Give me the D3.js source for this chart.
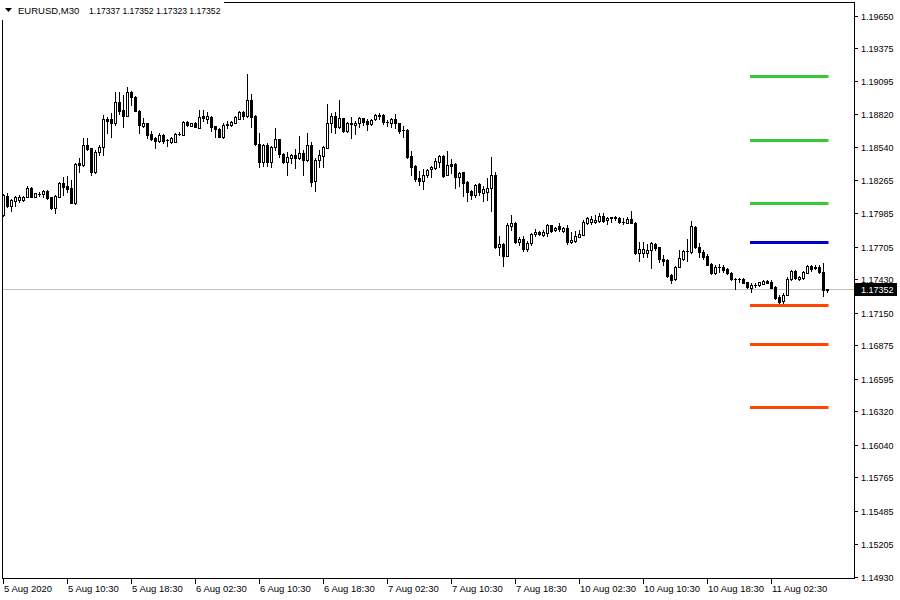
<!DOCTYPE html>
<html><head><meta charset="utf-8">
<script src="https://cdn.jsdelivr.net/npm/d3@7"></script>
<style>body{margin:0;background:#fff;} text{font-family:"Liberation Sans",Arial,sans-serif;font-size:9px;fill:#000;}</style>
</head><body><svg id="c" width="900" height="600"></svg>
<script>
const headerLabel = "EURUSD,M30";
const headerPrices = ["1.17337","1.17352","1.17323","1.17352"];
const openP = [
1.17972,1.18132,1.18050,1.18092,1.18098,1.18098,1.18126,1.18199,1.18126,1.18150,
1.18146,1.18174,1.18120,1.18028,1.18126,1.18238,1.18216,1.18196,1.18070,1.18406,
1.18392,1.18558,1.18533,1.18336,1.18499,1.18547,1.18777,1.18777,1.18749,1.18920,
1.18855,1.18808,1.19004,1.18967,1.18850,1.18723,1.18743,1.18653,1.18622,1.18597,
1.18642,1.18600,1.18589,1.18589,1.18650,1.18645,1.18754,1.18723,1.18749,1.18707,
1.18805,1.18782,1.18799,1.18721,1.18698,1.18625,1.18729,1.18726,1.18749,1.18780,
1.18836,1.18808,1.18939,1.18805,1.18569,1.18420,1.18561,1.18420,1.18541,1.18608,
1.18482,1.18420,1.18454,1.18477,1.18449,1.18491,1.18434,1.18558,1.18261,1.18434,
1.18471,1.18538,1.18743,1.18805,1.18715,1.18785,1.18679,1.18745,1.18726,1.18743,
1.18785,1.18763,1.18735,1.18780,1.18810,1.18813,1.18754,1.18743,1.18777,1.18743,
1.18684,1.18687,1.18468,1.18384,1.18285,1.18260,1.18305,1.18356,1.18370,1.18420,
1.18468,1.18308,1.18400,1.18400,1.18294,1.18330,1.18249,1.18176,1.18140,1.18232,
1.18159,1.18168,1.18196,1.18308,1.17699,1.17727,1.17629,1.17879,1.17907,1.17747,
1.17769,1.17688,1.17733,1.17809,1.17831,1.17803,1.17823,1.17884,1.17842,1.17879,
1.17837,1.17865,1.17741,1.17755,1.17789,1.17803,1.17901,1.17910,1.17912,1.17924,
1.17963,1.17929,1.17952,1.17950,1.17946,1.17913,1.17907,1.17938,1.17907,1.17655,
1.17655,1.17655,1.17677,1.17728,1.17700,1.17599,1.17593,1.17467,1.17430,1.17537,
1.17601,1.17672,1.17663,1.17868,1.17705,1.17663,1.17630,1.17557,1.17481,1.17534,
1.17537,1.17520,1.17487,1.17433,1.17431,1.17433,1.17405,1.17355,1.17383,1.17383,
1.17391,1.17416,1.17411,1.17369,1.17285,1.17248,1.17299,1.17430,1.17501,1.17430,
1.17439,1.17487,1.17543,1.17537,1.17537,1.17495,1.17337];
const highP = [
1.18146,1.18154,1.18103,1.18132,1.18140,1.18134,1.18216,1.18205,1.18160,1.18168,
1.18182,1.18180,1.18126,1.18137,1.18252,1.18289,1.18300,1.18266,1.18406,1.18449,
1.18617,1.18617,1.18538,1.18519,1.18561,1.18813,1.18799,1.18827,1.19004,1.19004,
1.18982,1.19046,1.19018,1.18973,1.18855,1.18785,1.18749,1.18679,1.18631,1.18659,
1.18653,1.18614,1.18631,1.18659,1.18673,1.18763,1.18760,1.18749,1.18754,1.18855,
1.18855,1.18836,1.18805,1.18721,1.18704,1.18743,1.18763,1.18760,1.18805,1.18850,
1.18850,1.19158,1.18990,1.18810,1.18659,1.18566,1.18580,1.18552,1.18701,1.18614,
1.18491,1.18502,1.18485,1.18524,1.18636,1.18519,1.18659,1.18586,1.18449,1.18519,
1.18552,1.18906,1.18827,1.18841,1.18939,1.18791,1.18757,1.18799,1.18766,1.18799,
1.18791,1.18777,1.18777,1.18822,1.18827,1.18819,1.18771,1.18785,1.18822,1.18743,
1.18721,1.18693,1.18510,1.18389,1.18342,1.18356,1.18356,1.18384,1.18448,1.18476,
1.18473,1.18510,1.18440,1.18406,1.18336,1.18336,1.18255,1.18182,1.18232,1.18238,
1.18215,1.18280,1.18462,1.18336,1.17795,1.17739,1.17901,1.17971,1.17913,1.17789,
1.17795,1.17750,1.17823,1.17851,1.17837,1.17845,1.17896,1.17890,1.17870,1.17907,
1.17873,1.17887,1.17831,1.17839,1.17845,1.17929,1.17957,1.17966,1.17971,1.17985,
1.17985,1.17952,1.17957,1.17963,1.17952,1.17943,1.17952,1.18008,1.17913,1.17747,
1.17747,1.17725,1.17747,1.17739,1.17705,1.17635,1.17599,1.17473,1.17543,1.17677,
1.17677,1.17767,1.17921,1.17879,1.17739,1.17677,1.17644,1.17565,1.17551,1.17559,
1.17551,1.17529,1.17495,1.17439,1.17444,1.17444,1.17411,1.17397,1.17402,1.17411,
1.17425,1.17425,1.17425,1.17375,1.17299,1.17313,1.17447,1.17509,1.17509,1.17458,
1.17503,1.17551,1.17551,1.17551,1.17551,1.17571,1.17352];
const lowP = [
1.17966,1.18042,1.18008,1.18050,1.18084,1.18090,1.18120,1.18120,1.18120,1.18132,
1.18126,1.18106,1.18022,1.17991,1.18120,1.18140,1.18168,1.18070,1.18064,1.18336,
1.18384,1.18519,1.18308,1.18322,1.18477,1.18477,1.18665,1.18625,1.18729,1.18822,
1.18709,1.18805,1.18897,1.18847,1.18665,1.18715,1.18622,1.18603,1.18538,1.18589,
1.18575,1.18552,1.18580,1.18586,1.18645,1.18642,1.18721,1.18718,1.18709,1.18701,
1.18763,1.18743,1.18681,1.18631,1.18625,1.18622,1.18701,1.18721,1.18743,1.18777,
1.18777,1.18799,1.18715,1.18558,1.18378,1.18384,1.18384,1.18373,1.18519,1.18462,
1.18406,1.18308,1.18406,1.18364,1.18440,1.18308,1.18429,1.18216,1.18176,1.18378,
1.18378,1.18533,1.18673,1.18665,1.18707,1.18673,1.18673,1.18622,1.18651,1.18715,
1.18729,1.18687,1.18729,1.18771,1.18777,1.18735,1.18721,1.18715,1.18707,1.18659,
1.18631,1.18454,1.18308,1.18260,1.18224,1.18193,1.18294,1.18294,1.18356,1.18378,
1.18288,1.18305,1.18328,1.18201,1.18215,1.18134,1.18092,1.18103,1.18126,1.18140,
1.18092,1.18098,1.18005,1.17691,1.17635,1.17545,1.17626,1.17845,1.17733,1.17719,
1.17671,1.17668,1.17719,1.17795,1.17803,1.17795,1.17795,1.17831,1.17837,1.17839,
1.17831,1.17727,1.17733,1.17747,1.17783,1.17800,1.17896,1.17896,1.17901,1.17915,
1.17915,1.17896,1.17915,1.17929,1.17901,1.17896,1.17901,1.17901,1.17643,1.17588,
1.17621,1.17621,1.17523,1.17677,1.17579,1.17551,1.17447,1.17402,1.17425,1.17531,
1.17593,1.17588,1.17655,1.17691,1.17621,1.17601,1.17548,1.17475,1.17475,1.17495,
1.17495,1.17475,1.17425,1.17349,1.17405,1.17397,1.17360,1.17327,1.17363,1.17374,
1.17388,1.17397,1.17355,1.17265,1.17234,1.17228,1.17296,1.17425,1.17433,1.17425,
1.17433,1.17481,1.17501,1.17515,1.17481,1.17293,1.17323];
const closeP = [
1.18140,1.18050,1.18098,1.18120,1.18126,1.18126,1.18202,1.18126,1.18154,1.18148,
1.18174,1.18112,1.18028,1.18132,1.18238,1.18210,1.18188,1.18075,1.18401,1.18392,
1.18558,1.18530,1.18336,1.18502,1.18547,1.18777,1.18766,1.18749,1.18920,1.18850,
1.18808,1.19004,1.18962,1.18850,1.18729,1.18743,1.18645,1.18608,1.18597,1.18642,
1.18594,1.18603,1.18622,1.18653,1.18653,1.18754,1.18726,1.18743,1.18715,1.18799,
1.18785,1.18805,1.18715,1.18693,1.18631,1.18729,1.18737,1.18754,1.18794,1.18841,
1.18808,1.18939,1.18799,1.18569,1.18420,1.18561,1.18420,1.18547,1.18608,1.18482,
1.18420,1.18457,1.18477,1.18454,1.18491,1.18434,1.18558,1.18252,1.18434,1.18477,
1.18541,1.18743,1.18805,1.18715,1.18791,1.18679,1.18749,1.18735,1.18749,1.18791,
1.18757,1.18737,1.18771,1.18813,1.18805,1.18751,1.18757,1.18777,1.18743,1.18681,
1.18687,1.18462,1.18378,1.18271,1.18260,1.18305,1.18350,1.18372,1.18426,1.18468,
1.18300,1.18392,1.18386,1.18294,1.18328,1.18243,1.18168,1.18140,1.18224,1.18168,
1.18187,1.18199,1.18308,1.17705,1.17727,1.17629,1.17887,1.17907,1.17747,1.17769,
1.17685,1.17739,1.17811,1.17831,1.17809,1.17828,1.17884,1.17839,1.17865,1.17851,
1.17859,1.17741,1.17761,1.17795,1.17809,1.17912,1.17943,1.17938,1.17929,1.17963,
1.17924,1.17946,1.17943,1.17952,1.17912,1.17915,1.17940,1.17904,1.17654,1.17683,
1.17683,1.17677,1.17733,1.17691,1.17599,1.17585,1.17458,1.17425,1.17537,1.17607,
1.17672,1.17669,1.17879,1.17705,1.17658,1.17621,1.17551,1.17481,1.17537,1.17537,
1.17509,1.17487,1.17433,1.17431,1.17433,1.17402,1.17369,1.17383,1.17385,1.17405,
1.17416,1.17402,1.17360,1.17276,1.17243,1.17299,1.17433,1.17501,1.17444,1.17453,
1.17495,1.17543,1.17517,1.17523,1.17489,1.17341,1.17352];
const timeLabels = ["5 Aug 2020","5 Aug 10:30","5 Aug 18:30","6 Aug 02:30","6 Aug 10:30","6 Aug 18:30","7 Aug 02:30","7 Aug 10:30","7 Aug 18:30","10 Aug 02:30","10 Aug 10:30","10 Aug 18:30","11 Aug 02:30"];
const timeLabelBars = [0,16,32,48,64,80,96,112,128,144,160,176,192];
const priceTicks = [1.19650,1.19375,1.19095,1.18820,1.18540,1.18265,1.17985,1.17705,1.17430,1.17150,1.16875,1.16595,1.16320,1.16040,1.15765,1.15485,1.15205,1.14930];
const pivotLevels = [1.19141,1.18603,1.18072,1.17744,1.17214,1.16886,1.16356];
const pivotColors = ["#32cd32","#32cd32","#32cd32","#0000cd","#ff4500","#ff4500","#ff4500"];
const pivotFromBar = 187;
const lastPrice = 1.17352;

const n = closeP.length;
const svg = d3.select("#c");
const x = d3.scaleLinear().domain([0, n-1]).range([3.5, 3.5 + 4*(n-1)]);
const y = d3.scaleLinear().domain([1.14930, 1.19650]).range([576.5, 15.5]);
const py = v => Math.round(y(v));

// frame
svg.append("rect").attr("x",2.5).attr("y",2.5).attr("width",852).attr("height",576)
  .attr("fill","none").attr("stroke","#000");

// bid line
svg.append("line").attr("x1",3).attr("x2",854).attr("y1",py(lastPrice)+0.5).attr("y2",py(lastPrice)+0.5)
  .attr("stroke","#c0c0c0");

const idx = d3.range(n);
const g = svg.append("g");
g.selectAll("line.w").data(idx).join("line").attr("class","w")
  .attr("x1",i=>x(i)).attr("x2",i=>x(i))
  .attr("y1",i=>py(highP[i])).attr("y2",i=>py(lowP[i])+1)
  .attr("stroke","#000").attr("stroke-width",1);

idx.forEach(i=>{
  const yo = py(openP[i]), yc = py(closeP[i]);
  if (yo === yc) {
    g.append("rect").attr("x",x(i)-1.5).attr("y",yc).attr("width",3).attr("height",1).attr("fill","#000");
  } else if (closeP[i] > openP[i]) {
    g.append("rect").attr("x",x(i)-1).attr("y",yc+0.5).attr("width",2).attr("height",yo-yc)
      .attr("fill","#fff").attr("stroke","#000").attr("stroke-width",1);
  } else {
    g.append("rect").attr("x",x(i)-1.5).attr("y",yo).attr("width",3).attr("height",yc-yo+1).attr("fill","#000");
  }
});

// pivot lines
svg.selectAll("line.pv").data(pivotLevels).join("line").attr("class","pv")
  .attr("x1",x(pivotFromBar)-1.5).attr("x2",x(n-1)+1)
  .attr("y1",d=>py(d)+0.5).attr("y2",d=>py(d)+0.5)
  .attr("stroke",(d,i)=>pivotColors[i]).attr("stroke-width",3);

// right axis
const ra = svg.append("g");
ra.selectAll("line").data(priceTicks).join("line")
  .attr("x1",855).attr("x2",858).attr("y1",d=>py(d)+0.5).attr("y2",d=>py(d)+0.5).attr("stroke","#000");
ra.selectAll("text").data(priceTicks).join("text")
  .attr("x",861).attr("y",d=>py(d)+3.5).text(d=>d.toFixed(5));

// last price label
svg.append("rect").attr("x",855).attr("y",py(lastPrice)-6).attr("width",42).attr("height",13).attr("fill","#000");
svg.append("text").attr("x",861).attr("y",py(lastPrice)+3.5).style("fill","#fff").text(lastPrice.toFixed(5));

// bottom axis
const ba = svg.append("g");
ba.selectAll("line").data(timeLabelBars).join("line")
  .attr("x1",i=>x(i)).attr("x2",i=>x(i)).attr("y1",579).attr("y2",584).attr("stroke","#000");
ba.selectAll("text").data(timeLabelBars).join("text")
  .attr("x",i=>x(i)+0.5).attr("y",592).style("font-size","9.5px").text((d,k)=>timeLabels[k]);

// header
svg.append("rect").attr("x",0).attr("y",0).attr("width",224).attr("height",20).attr("fill","#fff");
svg.append("path").attr("d","M5,8 L12,8 L8.5,12 Z").attr("fill","#000");
svg.append("text").attr("x",18).attr("y",14).style("font-size","9.5px").text(headerLabel);
svg.append("text").attr("x",89).attr("y",14).style("font-size","8.6px").text(headerPrices.join(" "));
</script></body></html>
